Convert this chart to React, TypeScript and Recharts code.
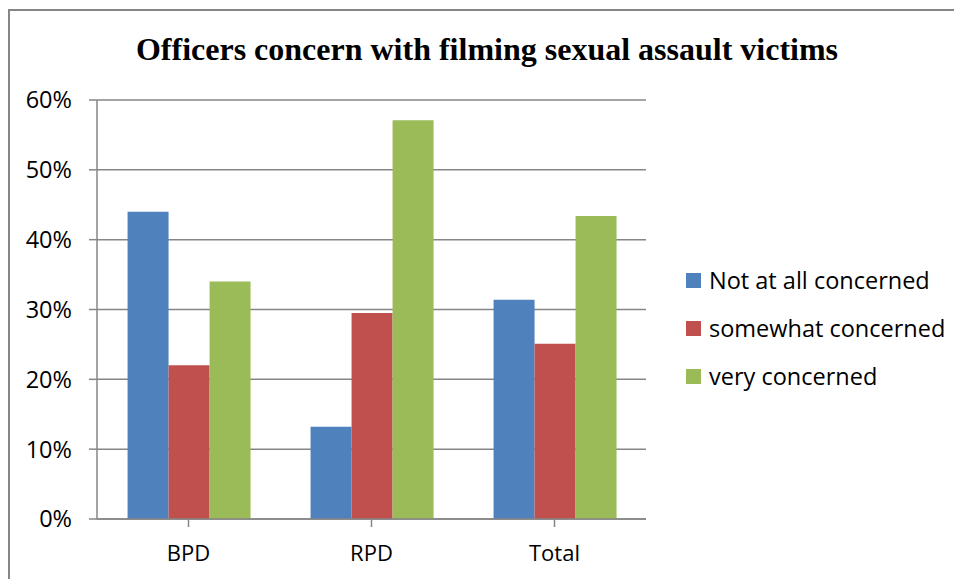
import { BarChart, Bar, XAxis, YAxis, CartesianGrid } from "recharts";

const SITES = ["BPD", "RPD", "Total"];
const NOT_AT_ALL = [0.44, 0.132, 0.314];
const SOMEWHAT = [0.22, 0.295, 0.251];
const VERY = [0.34, 0.571, 0.434];
const Y_TICKS = [0, 0.1, 0.2, 0.3, 0.4, 0.5, 0.6];

const SERIES = [
  { key: "notAtAll", name: "Not at all concerned", color: "#4F81BD" },
  { key: "somewhat", name: "somewhat concerned", color: "#C0504D" },
  { key: "very", name: "very concerned", color: "#9BBB59" },
];

const rows = SITES.map((site, i) => ({
  site,
  notAtAll: NOT_AT_ALL[i],
  somewhat: SOMEWHAT[i],
  very: VERY[i],
}));

const FONT = "'Open Sans', sans-serif";
const AXIS_GRAY = "#868686";

// legend sits to the right of the plot, outside the svg so it doesn't eat plot width
function LegendBox() {
  return (
    <div
      style={{
        position: "absolute",
        left: 686,
        top: 256,
        fontFamily: FONT,
        fontSize: 23.5,
        color: "#000",
        whiteSpace: "nowrap",
      }}
    >
      {SERIES.map((s) => (
        <div key={s.key} style={{ display: "flex", alignItems: "center", height: 48 }}>
          <span
            style={{
              display: "inline-block",
              width: 15,
              height: 15,
              background: s.color,
              marginRight: 8,
            }}
          />
          {s.name}
        </div>
      ))}
    </div>
  );
}

export default function App() {
  return (
    <div style={{ position: "absolute", left: 0, top: 0, width: 954, height: 579, background: "#fff", overflow: "hidden" }}>
      <div
        style={{
          position: "absolute",
          left: 8,
          top: 9,
          width: 980,
          height: 620,
          border: `2px solid ${AXIS_GRAY}`,
        }}
      />
      <div
        style={{
          position: "absolute",
          left: 0,
          top: 31,
          width: 974,
          textAlign: "center",
          fontFamily: "'Liberation Serif', serif",
          fontWeight: "bold",
          fontSize: 32,
          lineHeight: "36px",
        }}
      >
        Officers concern with filming sexual assault victims
      </div>
      <div style={{ position: "absolute", left: 0, top: 0 }}>
        <BarChart
          width={954}
          height={579}
          data={rows}
          margin={{ top: 100, right: 308, bottom: 0, left: 0 }}
          barCategoryGap="16.7%"
          barGap={0}
        >
          <CartesianGrid vertical={false} stroke={AXIS_GRAY} strokeWidth={1.5} />
          <XAxis
            dataKey="site"
            height={60}
            stroke={AXIS_GRAY}
            strokeWidth={1.5}
            tickSize={8}
            tickMargin={18}
            tick={{ fill: "#000", fontFamily: FONT, fontSize: 22 }}
            interval={0}
          />
          <YAxis
            width={97}
            domain={[0, 0.6]}
            ticks={Y_TICKS}
            interval={0}
            stroke={AXIS_GRAY}
            strokeWidth={1.5}
            tickSize={8}
            tickMargin={17}
            tick={{ fill: "#000", fontFamily: FONT, fontSize: 23.5 }}
            tickFormatter={(v: number) => `${Math.round(v * 100)}%`}
          />
          {SERIES.map((s) => (
            <Bar key={s.key} dataKey={s.key} name={s.name} fill={s.color} isAnimationActive={false} />
          ))}
        </BarChart>
      </div>
      <LegendBox />
    </div>
  );
}
